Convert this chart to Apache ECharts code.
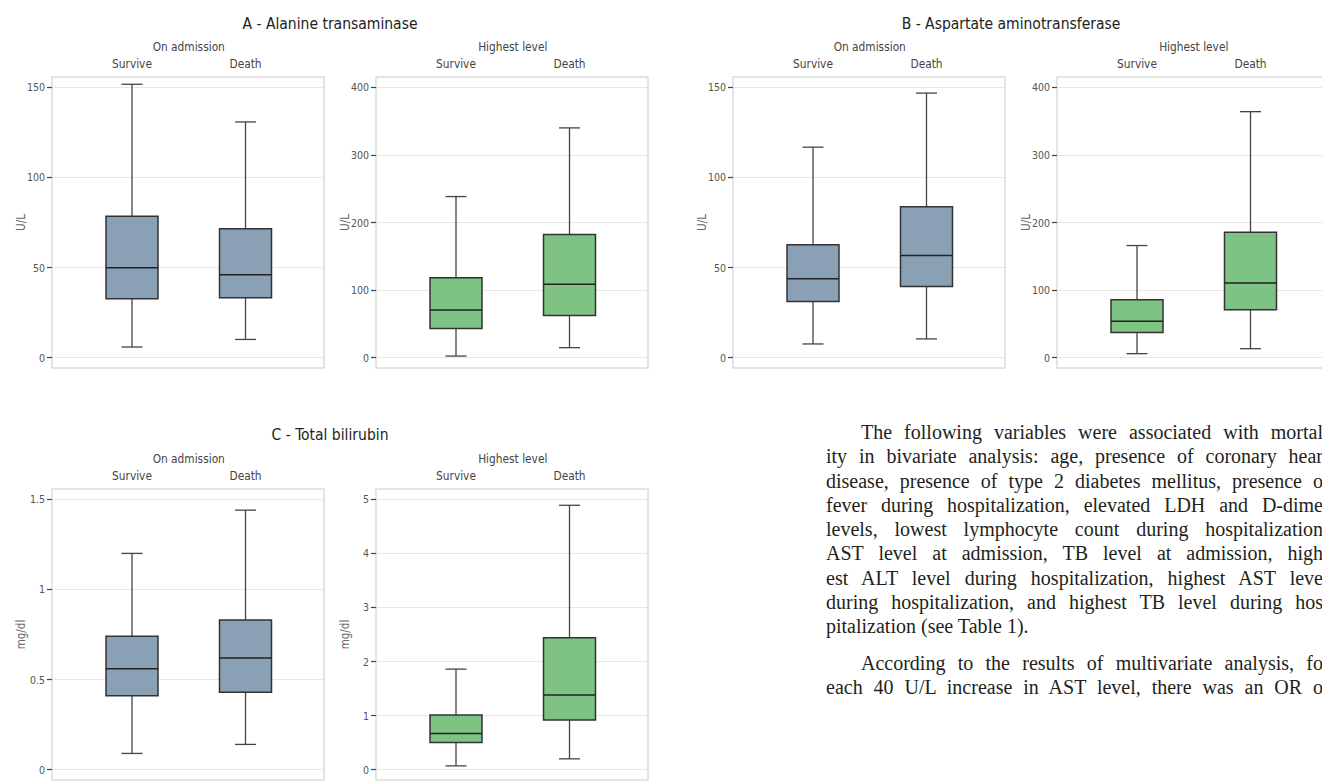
<!DOCTYPE html>
<html>
<head>
<meta charset="utf-8">
<script src="https://cdn.jsdelivr.net/npm/echarts@6/dist/echarts.min.js"></script>
<style>
html,body{margin:0;padding:0;background:#fff;overflow:hidden;width:1322px;height:782px;}
#chart{position:absolute;left:0;top:0;width:1322px;height:782px;}
#para{position:absolute;left:826px;top:420px;width:497px;overflow:hidden;font-family:"Liberation Serif","DejaVu Serif",serif;font-size:20px;line-height:24.3px;color:#231f20;}
#para div{text-align:justify;text-align-last:justify;}
#para div.ind{padding-left:35px;}
#para div.last{text-align:left;text-align-last:left;}
#para div.gap{margin-top:12px;}
</style>
</head>
<body>
<div id="chart"></div>
<div id="para"></div>
<script>
// ---------------- data ----------------
const categories = ['Survive', 'Death'];
const panelTitles = ['A - Alanine transaminase', 'B - Aspartate aminotransferase', 'C - Total bilirubin'];
const subTitles = ['On admission', 'Highest level'];
const unitUL = 'U/L';
const unitTB = 'mg/dl';

// [min, Q1, median, Q3, max] for Survive, Death
const altAdmission = [[5.9, 32.7, 49.9, 78.5, 151.7], [10.1, 33.3, 46.0, 71.5, 130.8]];
const altHighest   = [[2.4, 43.3, 70.4, 118.3, 238.4], [14.8, 62.5, 108.8, 182.3, 340]];
const astAdmission = [[7.6, 31.2, 43.8, 62.6, 116.8], [10.4, 39.5, 56.7, 83.7, 146.8]];
const astHighest   = [[5.9, 37.4, 53.7, 85.7, 165.9], [13.3, 70.9, 110.4, 185.7, 364]];
const tbAdmission  = [[0.09, 0.41, 0.56, 0.74, 1.20], [0.14, 0.43, 0.62, 0.83, 1.44]];
const tbHighest    = [[0.07, 0.50, 0.67, 1.01, 1.86], [0.20, 0.92, 1.38, 2.44, 4.89]];

const ticksAdmissionUL = [0, 50, 100, 150];
const ticksHighestUL   = [0, 100, 200, 300, 400];
const ticksAdmissionTB = [0, 0.5, 1, 1.5];
const ticksHighestTB   = [0, 1, 2, 3, 4, 5];

const paragraphLines = [
  'The following variables were associated with mortal',
  'ity in bivariate analysis: age, presence of coronary hear',
  'disease, presence of type 2 diabetes mellitus, presence o',
  'fever during hospitalization, elevated LDH and D-dime',
  'levels, lowest lymphocyte count during hospitalization',
  'AST level at admission, TB level at admission, high',
  'est ALT level during hospitalization, highest AST leve',
  'during hospitalization, and highest TB level during hos',
  'pitalization (see Table 1).',
  'According to the results of multivariate analysis, fo',
  'each 40 U/L increase in AST level, there was an OR o'
];

// ---------------- style / layout ----------------
const FONT = '"Liberation Sans Narrow","Arial Narrow","DejaVu Sans Condensed",Roboto,sans-serif';
const BLUE = '#8aa1b5';
const GREEN = '#7ec384';
const W = 272, H = 291, PADPX = 10.35;
const BOX_W = 52, CAP_W = 21;

const panels = [
  {left: 52,   top: 77,  data: altAdmission, ticks: ticksAdmissionUL, unit: unitUL, sub: subTitles[0], color: BLUE},
  {left: 376,  top: 77,  data: altHighest,   ticks: ticksHighestUL,   unit: unitUL, sub: subTitles[1], color: GREEN},
  {left: 733,  top: 77,  data: astAdmission, ticks: ticksAdmissionUL, unit: unitUL, sub: subTitles[0], color: BLUE},
  {left: 1057, top: 77,  data: astHighest,   ticks: ticksHighestUL,   unit: unitUL, sub: subTitles[1], color: GREEN},
  {left: 52,   top: 489, data: tbAdmission,  ticks: ticksAdmissionTB, unit: unitTB, sub: subTitles[0], color: BLUE},
  {left: 376,  top: 489, data: tbHighest,    ticks: ticksHighestTB,   unit: unitTB, sub: subTitles[1], color: GREEN}
];
const titleLayout = [
  {x: 330, y: 23.5},
  {x: 1011, y: 23.5},
  {x: 330, y: 435}
];

function makeRenderItem(color) {
  return function (params, api) {
    const k = api.value(0);
    const pLo = api.coord([k, api.value(1)]);
    const pQ1 = api.coord([k, api.value(2)]);
    const pMd = api.coord([k, api.value(3)]);
    const pQ3 = api.coord([k, api.value(4)]);
    const pHi = api.coord([k, api.value(5)]);
    const cx = pLo[0];
    const wStyle = {stroke: '#444', lineWidth: 1.3};
    return {
      type: 'group',
      children: [
        {type: 'line', shape: {x1: cx, y1: pLo[1], x2: cx, y2: pQ1[1]}, style: wStyle},
        {type: 'line', shape: {x1: cx, y1: pQ3[1], x2: cx, y2: pHi[1]}, style: wStyle},
        {type: 'line', shape: {x1: cx - CAP_W / 2, y1: pLo[1], x2: cx + CAP_W / 2, y2: pLo[1]}, style: wStyle},
        {type: 'line', shape: {x1: cx - CAP_W / 2, y1: pHi[1], x2: cx + CAP_W / 2, y2: pHi[1]}, style: wStyle},
        {type: 'rect', shape: {x: cx - BOX_W / 2, y: pQ3[1], width: BOX_W, height: pQ1[1] - pQ3[1]},
          style: {fill: color, stroke: '#333', lineWidth: 1.5}},
        {type: 'line', shape: {x1: cx - BOX_W / 2, y1: pMd[1], x2: cx + BOX_W / 2, y2: pMd[1]},
          style: {stroke: '#222', lineWidth: 1.5}}
      ]
    };
  };
}

const grids = [], xAxes = [], yAxes = [], series = [];
panels.forEach((p, i) => {
  const t0 = p.ticks[0], t1 = p.ticks[p.ticks.length - 1];
  const padV = (t1 - t0) * PADPX / (H - 2 * PADPX);
  const ymin = t0 - padV, ymax = t1 + padV;
  // outer frame grid (border, gridlines, y ticks)
  grids.push({left: p.left, top: p.top, width: W, height: H, show: true,
    borderColor: '#dcdcdc', borderWidth: 1.5, backgroundColor: 'transparent', outerBoundsMode: 'none', containLabel: false});
  xAxes.push({gridIndex: 2 * i, type: 'category', data: categories, show: false});
  yAxes.push({gridIndex: 2 * i, type: 'value', min: ymin, max: ymax,
    name: p.unit, nameLocation: 'middle', nameGap: 25, nameRotate: 90, nameMoveOverlap: false,
    nameTextStyle: {fontFamily: FONT, fontSize: 11.5, color: '#666'},
    axisLine: {show: false},
    axisTick: {show: true, length: 5, customValues: p.ticks, lineStyle: {color: '#444', width: 1.2}},
    axisLabel: {show: true, customValues: p.ticks, margin: 7, fontFamily: FONT, fontSize: 10.5, color: '#555'},
    splitLine: {show: true, lineStyle: {color: '#e6e6e6', width: 1.2}}
  });
  // inner grid holding the boxes
  grids.push({left: p.left + 23.25, top: p.top, width: 227, height: H, show: false, outerBoundsMode: 'none', containLabel: false});
  xAxes.push({gridIndex: 2 * i + 1, type: 'category', data: categories, position: 'top',
    name: p.sub, nameLocation: 'middle', nameGap: 24,
    nameTextStyle: {fontFamily: FONT, fontSize: 11.8, color: '#444'},
    axisLine: {show: false}, axisTick: {show: false}, splitLine: {show: false},
    axisLabel: {margin: 7, fontFamily: FONT, fontSize: 11.8, color: '#444'}
  });
  yAxes.push({gridIndex: 2 * i + 1, type: 'value', min: ymin, max: ymax, show: false});
  series.push({type: 'custom', xAxisIndex: 2 * i + 1, yAxisIndex: 2 * i + 1,
    data: p.data.map((d, k) => [k].concat(d)),
    encode: {x: 0, y: [1, 2, 3, 4, 5]},
    renderItem: makeRenderItem(p.color), silent: true, animation: false, clip: false
  });
});

const graphics = panelTitles.map((t, i) => ({
  type: 'text', x: titleLayout[i].x, y: titleLayout[i].y, silent: true,
  style: {text: t, fontFamily: FONT, fontSize: 15.5, fill: '#222', align: 'center', verticalAlign: 'middle', textAlign: 'center', textVerticalAlign: 'middle'}
}));

const chart = echarts.init(document.getElementById('chart'), null, {renderer: 'svg'});
chart.setOption({
  animation: false,
  backgroundColor: '#fff',
  grid: grids, xAxis: xAxes, yAxis: yAxes, series: series,
  graphic: graphics
});

// paragraph text
const para = document.getElementById('para');
paragraphLines.forEach((line, i) => {
  const d = document.createElement('div');
  d.textContent = line;
  if (i === 0) d.className = 'ind';
  if (i === 8) d.className = 'last';
  if (i === 9) d.className = 'ind gap';
  para.appendChild(d);
});
</script>
</body>
</html>
